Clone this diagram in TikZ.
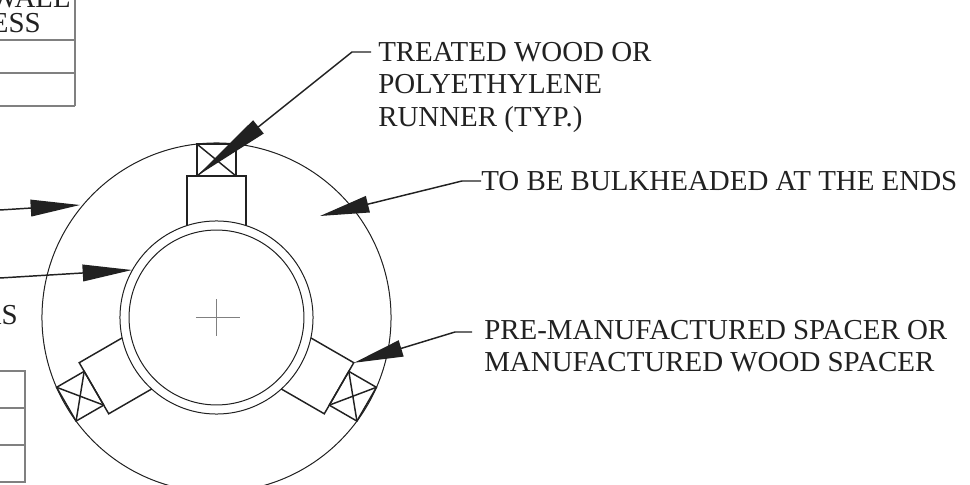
\documentclass[tikz,border=0pt]{standalone}
\usepackage{fontspec}
\setmainfont{Liberation Serif}
\usetikzlibrary{arrows.meta}
\definecolor{ink}{gray}{0.13}
\tikzset{
  label/.style={inner sep=0pt, text=ink, font=\fontsize{21.7}{24.4}\selectfont},
  note/.style={label, anchor=north west, align=left},
  callout/.style={draw=ink, line width=1.1pt, -{Triangle[length=#1,width=12.5pt]}},
  callout/.default=37pt,
  part/.style={draw=ink, line width=1.1pt},
  rule/.style={draw=gray, line width=0.8pt}
}
\begin{document}
\begin{tikzpicture}[x=0.75pt,y=0.75pt]

\def\outercircle{(0,0) circle (130.9pt)}
\def\pipeouter{(0,0) circle (72.4pt)}
\def\pipeinner{(0,0) circle (65.6pt)}

\useasboundingbox (-216.5,-167.5) rectangle (753.5,317.5);
\clip (-216.5,-167.5) rectangle (753.5,317.5);

% tables at the left edge
\draw[rule] (-141.5,317.5) -- (-141.5,211.5);
\foreach \y in {277.5,244.5,211.5}
  \draw[rule] (-216.5,\y) -- (-141.5,\y);
\draw[rule] (-216.5,-53.5) -- (-191.5,-53.5) -- (-191.5,-164.5) -- (-216.5,-164.5);
\foreach \y in {-90.5,-127.5}
  \draw[rule] (-216.5,\y) -- (-191.5,\y);
\node[label, anchor=base east] (wall) at (-145.5,309.5) {WALL};
\node[label, anchor=base east] (ess) at (-175.5,284.5) {ESS};
\node[label, anchor=base east] (as) at (-198.5,-7.5) {AS};

% casing and carrier pipe
\draw[ink, line width=0.75pt] \outercircle;
\draw[ink, line width=0.75pt] \pipeouter;
\draw[ink, line width=0.75pt] \pipeinner;
\draw[gray, line width=0.6pt] (-20.5,0) -- (23.5,0);
\draw[gray, line width=0.6pt] (0,-18.5) -- (0,18.5);

% spacers with runners
\foreach \angle in {0,120,240} {
  \begin{scope}[rotate=\angle]
    \draw[part] (-29.5,91.9) -- (-29.5,141.5) -- (29.5,141.5) -- (29.5,91.9);
    \draw[part] (-19.5,141.5) rectangle (19.5,173.4);
    \draw[part] (-19.5,141.5) -- (19.5,173.4);
    \draw[part] (-19.5,173.4) -- (19.5,141.5);
  \end{scope}
}

% notes
\node[note] (treated) at (161.5,275.5) {TREATED WOOD OR\\POLYETHYLENE\\RUNNER (TYP.)};
\node[label, anchor=west] (ends) at (264.5,136.5) {TO BE BULKHEADED AT THE ENDS};
\node[note] (spacer) at (267.5,-2.5) {PRE-MANUFACTURED SPACER OR\\MANUFACTURED WOOD SPACER};

\coordinate (treatedknee) at (135.5,265.5);
\coordinate (treatedend) at (154.5,265.5);
\coordinate (treatedtip) at (-19.5,141.5);
\coordinate (endsknee) at (245.5,136.5);
\coordinate (endstip) at (103.5,101.5);
\coordinate (spacerknee) at (238.5,-14.5);
\coordinate (spacerend) at (255.5,-14.5);
\coordinate (spacertip) at (137.5,-45.3);
\coordinate (casingfrom) at (-216.5,107.5);
\coordinate (casingtip) at (-136.5,112.5);
\coordinate (pipefrom) at (-216.5,39.5);
\coordinate (pipetip) at (-84.5,47.5);

\draw[callout=59pt] (treatedend) -- (treatedknee) -- (treatedtip);
\draw[callout] (ends.west) -- (endsknee) -- (endstip);
\draw[callout] (spacerend) -- (spacerknee) -- (spacertip);
\draw[callout] (casingfrom) -- (casingtip);
\draw[callout] (pipefrom) -- (pipetip);

\end{tikzpicture}
\end{document}
